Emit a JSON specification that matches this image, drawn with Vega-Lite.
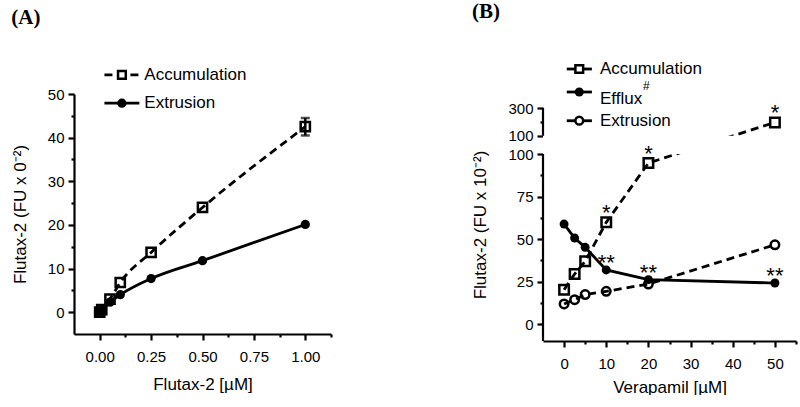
{
  "$schema": "https://vega.github.io/schema/vega-lite/v6.json",
  "background": "white",
  "padding": {"left": 11, "top": 0, "right": 0, "bottom": 0},
  "spacing": 138,
  "datasets": {
    "a": [
      {"series": "Accumulation", "c": 0, "v": 0},
      {"series": "Accumulation", "c": 0.01, "v": 0.6},
      {"series": "Accumulation", "c": 0.05, "v": 3},
      {"series": "Accumulation", "c": 0.1, "v": 6.8},
      {"series": "Accumulation", "c": 0.25, "v": 13.7},
      {"series": "Accumulation", "c": 0.5, "v": 24},
      {"series": "Accumulation", "c": 1, "v": 42.5, "lo": 40.5, "hi": 44.5},
      {"series": "Extrusion", "c": 0, "v": 0},
      {"series": "Extrusion", "c": 0.01, "v": 0.4},
      {"series": "Extrusion", "c": 0.05, "v": 2.3},
      {"series": "Extrusion", "c": 0.1, "v": 4},
      {"series": "Extrusion", "c": 0.25, "v": 7.7},
      {"series": "Extrusion", "c": 0.5, "v": 11.8},
      {"series": "Extrusion", "c": 1, "v": 20.1}
    ],
    "b": [
      {"series": "Accumulation", "c": 0, "v": 20.2},
      {"series": "Accumulation", "c": 2.5, "v": 29.4},
      {"series": "Accumulation", "c": 5, "v": 36.9},
      {"series": "Accumulation", "c": 10, "v": 59.8, "sig": "*"},
      {"series": "Accumulation", "c": 20, "v": 94.7, "sig": "*"},
      {"series": "Accumulation", "c": 50, "v": 196, "sig": "*"},
      {"series": "Efflux", "c": 0, "v": 58.8},
      {"series": "Efflux", "c": 2.5, "v": 50.6},
      {"series": "Efflux", "c": 5, "v": 45.1},
      {"series": "Efflux", "c": 10, "v": 31.8, "sig": "**"},
      {"series": "Efflux", "c": 20, "v": 26.1, "sig": "**"},
      {"series": "Efflux", "c": 50, "v": 24.1, "sig": "**"},
      {"series": "Extrusion", "c": 0, "v": 11.8},
      {"series": "Extrusion", "c": 2.5, "v": 14.3},
      {"series": "Extrusion", "c": 5, "v": 17.3},
      {"series": "Extrusion", "c": 10, "v": 19.2},
      {"series": "Extrusion", "c": 20, "v": 23.5},
      {"series": "Extrusion", "c": 50, "v": 46.6}
    ]
  },
  "config": {
    "view": {"stroke": null},
    "font": "Liberation Sans",
    "axis": {
      "grid": false,
      "domainColor": "black",
      "domainWidth": 2.2,
      "tickColor": "black",
      "tickWidth": 2.2,
      "tickSize": 6,
      "labelFont": "Liberation Sans",
      "labelFontSize": 15,
      "labelColor": "black",
      "labelOverlap": false,
      "labelFlush": false,
      "titleFont": "Liberation Sans",
      "titleFontSize": 17,
      "titleFontWeight": "normal",
      "titleColor": "black"
    },
    "title": {"font": "Liberation Serif", "fontSize": 21, "fontWeight": "bold", "color": "black", "anchor": "start", "frame": "bounds"}
  },
  "hconcat": [
    {
      "title": {"text": "(A)", "offset": 38},
      "width": 257,
      "height": 240,
      "data": {"name": "a"},
      "layer": [
        {
          "transform": [{"filter": "datum.series == 'Accumulation'"}],
          "mark": {"type": "line", "color": "black", "strokeWidth": 2.8, "strokeDash": [8, 5], "interpolate": "monotone"},
          "encoding": {
            "x": {"field": "c", "type": "quantitative", "title": "Flutax-2 [µM]",
              "scale": {"domain": [-0.125, 1.125], "nice": false, "zero": false},
              "axis": {"values": [0, 0.125, 0.25, 0.375, 0.5, 0.625, 0.75, 0.875, 1, 1.125], "tickCount": 100, "format": ".2f",
                "labelExpr": "indexof([0, 0.25, 0.5, 0.75, 1], datum.value) >= 0 ? datum.label : ''",
                "tickSize": {"condition": {"test": "indexof([0, 0.25, 0.5, 0.75, 1], datum.value) < 0", "value": 3}, "value": 6},
                "labelPadding": 9, "titlePadding": 12}},
            "y": {"field": "v", "type": "quantitative", "title": "Flutax-2 (FU x 0⁻²)",
              "scale": {"domain": [-5, 50], "nice": false, "zero": false},
              "axis": {"values": [0, 5, 10, 15, 20, 25, 30, 35, 40, 45, 50], "tickCount": 100, "format": "d",
                "labelExpr": "datum.value % 10 == 0 ? datum.label : ''",
                "tickSize": {"condition": {"test": "datum.value % 10 != 0", "value": 3}, "value": 6},
                "labelPadding": 4, "titlePadding": 18}}
          }
        },
        {
          "transform": [{"filter": "datum.series == 'Extrusion'"}],
          "mark": {"type": "line", "color": "black", "strokeWidth": 2.8, "interpolate": "monotone"},
          "encoding": {"x": {"field": "c", "type": "quantitative"}, "y": {"field": "v", "type": "quantitative"}}
        },
        {
          "transform": [{"filter": "isValid(datum.lo)"}],
          "mark": {"type": "errorbar", "color": "black", "thickness": 2.5, "ticks": {"size": 9}},
          "encoding": {"x": {"field": "c", "type": "quantitative"}, "y": {"field": "lo", "type": "quantitative", "title": "Flutax-2 (FU x 0⁻²)"}, "y2": {"field": "hi"}}
        },
        {
          "transform": [{"filter": "datum.series == 'Accumulation'"}],
          "mark": {"type": "point", "shape": "square", "filled": false, "color": "black", "strokeWidth": 2.5, "size": 85, "opacity": 1},
          "encoding": {"x": {"field": "c", "type": "quantitative"}, "y": {"field": "v", "type": "quantitative"}}
        },
        {
          "transform": [{"filter": "datum.series == 'Extrusion'"}],
          "mark": {"type": "point", "shape": "circle", "filled": true, "color": "black", "size": 86, "opacity": 1},
          "encoding": {"x": {"field": "c", "type": "quantitative"}, "y": {"field": "v", "type": "quantitative"}}
        },
        {
          "data": {"values": [{}]},
          "mark": {"type": "rule", "color": "black", "strokeWidth": 2.8, "strokeDash": [8, 5]},
          "encoding": {"x": {"datum": 0.023, "type": "quantitative"}, "x2": {"datum": 0.193}, "y": {"datum": 54.4, "type": "quantitative"}}
        },
        {
          "data": {"values": [{}]},
          "mark": {"type": "point", "shape": "square", "filled": true, "fill": "white", "stroke": "black", "strokeWidth": 2.5, "size": 60, "opacity": 1},
          "encoding": {"x": {"datum": 0.108, "type": "quantitative"}, "y": {"datum": 54.4, "type": "quantitative"}}
        },
        {
          "data": {"values": [{}]},
          "mark": {"type": "text", "text": "Accumulation", "align": "left", "baseline": "middle", "fontSize": 17, "color": "black"},
          "encoding": {"x": {"datum": 0.217, "type": "quantitative"}, "y": {"datum": 54.4, "type": "quantitative"}}
        },
        {
          "data": {"values": [{}]},
          "mark": {"type": "rule", "color": "black", "strokeWidth": 2.8},
          "encoding": {"x": {"datum": 0.023, "type": "quantitative"}, "x2": {"datum": 0.193}, "y": {"datum": 47.9, "type": "quantitative"}}
        },
        {
          "data": {"values": [{}]},
          "mark": {"type": "point", "shape": "circle", "filled": true, "color": "black", "size": 86, "opacity": 1},
          "encoding": {"x": {"datum": 0.108, "type": "quantitative"}, "y": {"datum": 47.9, "type": "quantitative"}}
        },
        {
          "data": {"values": [{}]},
          "mark": {"type": "text", "text": "Extrusion", "align": "left", "baseline": "middle", "fontSize": 17, "color": "black"},
          "encoding": {"x": {"datum": 0.217, "type": "quantitative"}, "y": {"datum": 47.9, "type": "quantitative"}}
        }
      ]
    },
    {
      "title": {"text": "(B)", "offset": 38},
      "width": 253,
      "height": 247,
      "data": {"name": "b"},
      "layer": [
        {
          "transform": [{"filter": "datum.series == 'Accumulation'"}],
          "mark": {"type": "line", "color": "black", "strokeWidth": 2.8, "strokeDash": [8, 5]},
          "encoding": {
            "x": {"field": "c", "type": "quantitative", "title": "Verapamil [µM]",
              "scale": {"domain": [-5, 55], "nice": false, "zero": false},
              "axis": {"values": [0, 5, 10, 15, 20, 25, 30, 35, 40, 45, 50, 55], "tickCount": 100, "format": "d",
                "labelExpr": "datum.value % 10 == 0 ? datum.label : ''",
                "tickSize": {"condition": {"test": "datum.value % 10 != 0", "value": 3}, "value": 6},
                "labelPadding": 9, "titlePadding": 8}},
            "y": {"field": "v", "type": "quantitative", "title": "Flutax-2 (FU x 10⁻²)",
              "scale": {"domain": [-10, 100, 100.001, 300], "range": [247, 60, 41.7, 14], "nice": false, "zero": false},
              "axis": {"domain": false, "values": [0, 12.5, 25, 37.5, 50, 62.5, 75, 87.5, 100, 100.001, 200, 300], "tickCount": 100,
                "labelExpr": "datum.value > 100 && datum.value < 101 ? '100' : ((datum.value % 25 == 0 && datum.value <= 100) || datum.value == 300) ? format(datum.value, 'd') : ''",
                "tickSize": {"condition": {"test": "datum.value == 200 || datum.value % 25 != 0 && !(datum.value > 100 && datum.value < 101)", "value": 3}, "value": 6},
                "labelPadding": 4, "titlePadding": 18}}
          }
        },
        {
          "transform": [{"filter": "datum.series == 'Efflux'"}],
          "mark": {"type": "line", "color": "black", "strokeWidth": 2.8},
          "encoding": {"x": {"field": "c", "type": "quantitative"}, "y": {"field": "v", "type": "quantitative"}}
        },
        {
          "transform": [{"filter": "datum.series == 'Extrusion'"}],
          "mark": {"type": "line", "color": "black", "strokeWidth": 2.8, "strokeDash": [8, 5]},
          "encoding": {"x": {"field": "c", "type": "quantitative"}, "y": {"field": "v", "type": "quantitative"}}
        },
        {
          "data": {"values": [{}]},
          "mark": {"type": "rect", "color": "white", "opacity": 1},
          "encoding": {"x": {"datum": -5, "type": "quantitative"}, "x2": {"datum": 56}, "y": {"datum": 100, "type": "quantitative"}, "y2": {"datum": 100.001}}
        },
        {
          "data": {"values": [{}]},
          "mark": {"type": "rule", "color": "black", "strokeWidth": 2.2},
          "encoding": {"x": {"datum": -5, "type": "quantitative"}, "y": {"datum": -10, "type": "quantitative"}, "y2": {"datum": 100}}
        },
        {
          "data": {"values": [{}]},
          "mark": {"type": "rule", "color": "black", "strokeWidth": 2.2},
          "encoding": {"x": {"datum": -5, "type": "quantitative"}, "y": {"datum": 100.001, "type": "quantitative"}, "y2": {"datum": 300}}
        },
        {
          "transform": [{"filter": "datum.series == 'Accumulation'"}],
          "mark": {"type": "point", "shape": "square", "filled": false, "color": "black", "strokeWidth": 2.5, "size": 90, "opacity": 1},
          "encoding": {"x": {"field": "c", "type": "quantitative"}, "y": {"field": "v", "type": "quantitative"}}
        },
        {
          "transform": [{"filter": "datum.series == 'Efflux'"}],
          "mark": {"type": "point", "shape": "circle", "filled": true, "color": "black", "size": 80, "opacity": 1},
          "encoding": {"x": {"field": "c", "type": "quantitative"}, "y": {"field": "v", "type": "quantitative"}}
        },
        {
          "transform": [{"filter": "datum.series == 'Extrusion'"}],
          "mark": {"type": "point", "shape": "circle", "filled": false, "color": "black", "strokeWidth": 2.5, "size": 72, "opacity": 1},
          "encoding": {"x": {"field": "c", "type": "quantitative"}, "y": {"field": "v", "type": "quantitative"}}
        },
        {
          "transform": [{"filter": "datum.series == 'Accumulation' && isValid(datum.sig)"}],
          "mark": {"type": "text", "fontSize": 22, "color": "black", "align": "center", "baseline": "middle", "dy": -9},
          "encoding": {"x": {"field": "c", "type": "quantitative"}, "y": {"field": "v", "type": "quantitative"}, "text": {"field": "sig"}}
        },
        {
          "transform": [{"filter": "datum.series == 'Efflux' && isValid(datum.sig)"}],
          "mark": {"type": "text", "fontSize": 22, "color": "black", "align": "center", "baseline": "middle", "dy": -7},
          "encoding": {"x": {"field": "c", "type": "quantitative"}, "y": {"field": "v", "type": "quantitative"}, "text": {"field": "sig"}}
        },
        {
          "data": {"values": [{}]},
          "mark": {"type": "rule", "color": "black", "strokeWidth": 2.8},
          "encoding": {"x": {"datum": 0.64, "type": "quantitative"}, "x2": {"datum": 6.6}, "y": {"datum": 581.6, "type": "quantitative"}}
        },
        {
          "data": {"values": [{}]},
          "mark": {"type": "point", "shape": "square", "filled": true, "fill": "white", "stroke": "black", "strokeWidth": 2.5, "size": 60, "opacity": 1},
          "encoding": {"x": {"datum": 3.6, "type": "quantitative"}, "y": {"datum": 581.6, "type": "quantitative"}}
        },
        {
          "data": {"values": [{}]},
          "mark": {"type": "text", "text": "Accumulation", "align": "left", "baseline": "middle", "fontSize": 17, "color": "black"},
          "encoding": {"x": {"datum": 8.5, "type": "quantitative"}, "y": {"datum": 581.6, "type": "quantitative"}}
        },
        {
          "data": {"values": [{}]},
          "mark": {"type": "rule", "color": "black", "strokeWidth": 2.8},
          "encoding": {"x": {"datum": 0.64, "type": "quantitative"}, "x2": {"datum": 6.6}, "y": {"datum": 415.5, "type": "quantitative"}}
        },
        {
          "data": {"values": [{}]},
          "mark": {"type": "point", "shape": "circle", "filled": true, "color": "black", "size": 80, "opacity": 1},
          "encoding": {"x": {"datum": 3.6, "type": "quantitative"}, "y": {"datum": 415.5, "type": "quantitative"}}
        },
        {
          "data": {"values": [{}]},
          "mark": {"type": "text", "text": "Efflux", "align": "left", "baseline": "middle", "fontSize": 17, "color": "black"},
          "encoding": {"x": {"datum": 8.5, "type": "quantitative"}, "y": {"datum": 365, "type": "quantitative"}}
        },
        {
          "data": {"values": [{}]},
          "mark": {"type": "text", "text": "#", "align": "left", "baseline": "middle", "fontSize": 12, "color": "black"},
          "encoding": {"x": {"datum": 18.7, "type": "quantitative"}, "y": {"datum": 459, "type": "quantitative"}}
        },
        {
          "data": {"values": [{}]},
          "mark": {"type": "rule", "color": "black", "strokeWidth": 2.8},
          "encoding": {"x": {"datum": 0.64, "type": "quantitative"}, "x2": {"datum": 6.6}, "y": {"datum": 208, "type": "quantitative"}}
        },
        {
          "data": {"values": [{}]},
          "mark": {"type": "point", "shape": "circle", "filled": true, "fill": "white", "stroke": "black", "strokeWidth": 2.5, "size": 60, "opacity": 1},
          "encoding": {"x": {"datum": 3.6, "type": "quantitative"}, "y": {"datum": 208, "type": "quantitative"}}
        },
        {
          "data": {"values": [{}]},
          "mark": {"type": "text", "text": "Extrusion", "align": "left", "baseline": "middle", "fontSize": 17, "color": "black"},
          "encoding": {"x": {"datum": 8.5, "type": "quantitative"}, "y": {"datum": 208, "type": "quantitative"}}
        }
      ]
    }
  ]
}
